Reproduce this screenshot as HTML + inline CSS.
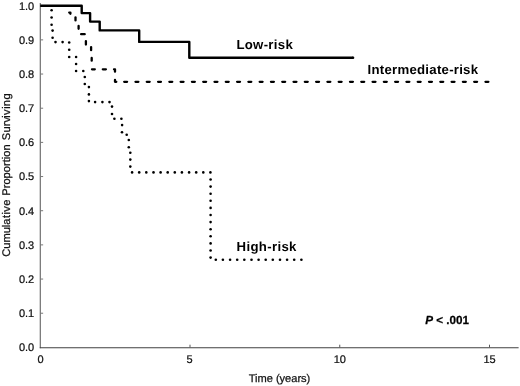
<!DOCTYPE html>
<html><head><meta charset="utf-8"><title>Survival</title>
<style>
html,body{margin:0;padding:0;background:#fff;}
body{width:520px;height:386px;overflow:hidden;}
svg{display:block;will-change:transform;}
text{font-family:"Liberation Sans",Arial,sans-serif;fill:#111;text-rendering:geometricPrecision;}
.t{stroke:#111;stroke-width:0.24px;}
.a{stroke:#111;stroke-width:0.25px;}
.t{font-size:11px;}
.a{font-size:11.1px;}
.b{font-size:13.2px;font-weight:bold;fill:#000;}
.p{font-size:11.7px;font-weight:bold;fill:#000;stroke:#000;stroke-width:0.25px;}
</style></head><body>
<svg width="520" height="386" viewBox="0 0 520 386">
<rect width="520" height="386" fill="#fff"/>
<g stroke="#4a4a4a" fill="none">
<line x1="40.25" y1="3" x2="40.25" y2="348.2" stroke-width="0.95"/>
<line x1="39.78" y1="347.7" x2="518.6" y2="347.7" stroke-width="1.1" stroke="#404040"/>
</g>
<g stroke="#777" stroke-width="1" fill="none">
<line x1="40.25" y1="313.23" x2="43.15" y2="313.23"/>
<line x1="40.25" y1="279.06" x2="43.15" y2="279.06"/>
<line x1="40.25" y1="244.89" x2="43.15" y2="244.89"/>
<line x1="40.25" y1="210.72" x2="43.15" y2="210.72"/>
<line x1="40.25" y1="176.55" x2="43.15" y2="176.55"/>
<line x1="40.25" y1="142.38" x2="43.15" y2="142.38"/>
<line x1="40.25" y1="108.21" x2="43.15" y2="108.21"/>
<line x1="40.25" y1="74.04" x2="43.15" y2="74.04"/>
<line x1="40.25" y1="39.87" x2="43.15" y2="39.87"/>
<line x1="190.00" y1="347.5" x2="190.00" y2="344.7" stroke="#5a5a5a"/>
<line x1="339.75" y1="347.5" x2="339.75" y2="344.7" stroke="#5a5a5a"/>
<line x1="489.50" y1="347.5" x2="489.50" y2="344.7" stroke="#5a5a5a"/>
</g>
<g class="t" text-anchor="end">
<text x="34.2" y="351.30">0.0</text>
<text x="34.2" y="317.13">0.1</text>
<text x="34.2" y="282.96">0.2</text>
<text x="34.2" y="248.79">0.3</text>
<text x="34.2" y="214.62">0.4</text>
<text x="34.2" y="180.45">0.5</text>
<text x="34.2" y="146.28">0.6</text>
<text x="34.2" y="112.11">0.7</text>
<text x="34.2" y="77.94">0.8</text>
<text x="34.2" y="43.77">0.9</text>
<text x="34.2" y="9.60">1.0</text>
</g>
<g class="t" text-anchor="middle">
<text x="40.55" y="363.2">0</text>
<text x="189.45" y="363.2">5</text>
<text x="339.80" y="363.2">10</text>
<text x="489.50" y="363.2">15</text>
</g>
<text class="a" x="248.7" y="382.4" textLength="61.6" lengthAdjust="spacing">Time (years)</text>
<g class="a">
<text transform="translate(9.6 256.8) rotate(-90)" dx="0 0 0 0 0 0 0.45 0.45 0.45 0.45">Cumulative</text>
<text transform="translate(9.6 195.75) rotate(-90)" letter-spacing="0.03">Proportion</text>
<text transform="translate(9.6 140.15) rotate(-90)" letter-spacing="0.15" dx="0 0 0 0 -1 0 0.5 0 0.4">Surviving</text>
</g>
<g fill="#000">
<circle cx="51.6" cy="10.2" r="1.3"/>
<circle cx="51.6" cy="17.5" r="1.3"/>
<circle cx="51.6" cy="24.7" r="1.3"/>
<circle cx="52.6" cy="30.6" r="1.3"/>
<circle cx="52.6" cy="37.8" r="1.3"/>
<circle cx="55.5" cy="42.1" r="1.3"/>
<circle cx="62.6" cy="42.1" r="1.3"/>
<circle cx="69.2" cy="42.5" r="1.3"/>
<circle cx="69.2" cy="49.7" r="1.3"/>
<circle cx="69.2" cy="57.0" r="1.3"/>
<circle cx="76.1" cy="57.0" r="1.3"/>
<circle cx="76.1" cy="64.0" r="1.3"/>
<circle cx="76.1" cy="71.0" r="1.3"/>
<circle cx="83.3" cy="71.0" r="1.3"/>
<circle cx="84.8" cy="77.0" r="1.3"/>
<circle cx="84.8" cy="84.0" r="1.3"/>
<circle cx="88.9" cy="87.1" r="1.3"/>
<circle cx="88.9" cy="94.4" r="1.3"/>
<circle cx="88.9" cy="101.1" r="1.3"/>
<circle cx="95.1" cy="102.1" r="1.3"/>
<circle cx="102.4" cy="102.1" r="1.3"/>
<circle cx="109.5" cy="102.1" r="1.3"/>
<circle cx="112.0" cy="106.6" r="1.3"/>
<circle cx="112.0" cy="114.0" r="1.3"/>
<circle cx="114.4" cy="118.8" r="1.3"/>
<circle cx="121.4" cy="118.8" r="1.3"/>
<circle cx="122.1" cy="125.1" r="1.3"/>
<circle cx="122.0" cy="132.2" r="1.3"/>
<circle cx="126.7" cy="134.8" r="1.3"/>
<circle cx="128.8" cy="140.0" r="1.3"/>
<circle cx="128.8" cy="147.2" r="1.3"/>
<circle cx="130.3" cy="152.8" r="1.3"/>
<circle cx="130.3" cy="159.6" r="1.3"/>
<circle cx="130.3" cy="166.6" r="1.3"/>
<circle cx="132.1" cy="172.4" r="1.3"/>
<circle cx="139.2" cy="172.4" r="1.3"/>
<circle cx="146.3" cy="172.4" r="1.3"/>
<circle cx="153.5" cy="172.4" r="1.3"/>
<circle cx="160.6" cy="172.4" r="1.3"/>
<circle cx="167.7" cy="172.4" r="1.3"/>
<circle cx="174.8" cy="172.4" r="1.3"/>
<circle cx="181.9" cy="172.4" r="1.3"/>
<circle cx="189.1" cy="172.4" r="1.3"/>
<circle cx="196.2" cy="172.4" r="1.3"/>
<circle cx="203.3" cy="172.4" r="1.3"/>
<circle cx="210.4" cy="172.4" r="1.3"/>
<circle cx="210.6" cy="179.5" r="1.3"/>
<circle cx="210.6" cy="186.6" r="1.3"/>
<circle cx="210.6" cy="193.7" r="1.3"/>
<circle cx="210.6" cy="200.8" r="1.3"/>
<circle cx="210.6" cy="207.9" r="1.3"/>
<circle cx="210.6" cy="215.0" r="1.3"/>
<circle cx="210.6" cy="222.1" r="1.3"/>
<circle cx="210.6" cy="229.2" r="1.3"/>
<circle cx="210.6" cy="236.3" r="1.3"/>
<circle cx="210.6" cy="243.4" r="1.3"/>
<circle cx="210.6" cy="250.5" r="1.3"/>
<circle cx="210.6" cy="257.6" r="1.3"/>
<circle cx="215.8" cy="259.8" r="1.3"/>
<circle cx="222.9" cy="259.8" r="1.3"/>
<circle cx="230.1" cy="259.8" r="1.3"/>
<circle cx="237.2" cy="259.8" r="1.3"/>
<circle cx="244.3" cy="259.8" r="1.3"/>
<circle cx="251.5" cy="259.8" r="1.3"/>
<circle cx="258.6" cy="259.8" r="1.3"/>
<circle cx="265.7" cy="259.8" r="1.3"/>
<circle cx="272.8" cy="259.8" r="1.3"/>
<circle cx="280.0" cy="259.8" r="1.3"/>
<circle cx="287.1" cy="259.8" r="1.3"/>
<circle cx="294.2" cy="259.8" r="1.3"/>
<circle cx="301.4" cy="259.8" r="1.3"/>
</g>
<g stroke="#000" stroke-width="2.3" fill="none" stroke-linecap="round" stroke-linejoin="round">
<path d="M69.2 12.6H70.4V13.8"/>
<path d="M75.5 17.4V20.4"/>
<path d="M78.6 25.9V28.8"/>
<path d="M81.1 34.2H84.7"/>
<path d="M85.9 41.1V44.6"/>
<path d="M91.1 47.1V50.2"/>
<path d="M91.7 57.9V60.7"/>
<path d="M92 69.3H94.8"/>
<path d="M102.8 69.3H105.9"/>
<path d="M114 69.3H115V71.7"/>
<path d="M115 80V81.8H116.3"/>
<path d="M124.2 81.8H490" stroke-dasharray="2.9 8.39"/>
</g>
<path d="M40.2 5.7H81.7V13.1H90.1V21.6H99.7V30.4H139.2V41.9H189.3V57.8H353.1" stroke="#000" stroke-width="2.4" fill="none" stroke-linejoin="round" stroke-linecap="butt"/>
<circle cx="353.1" cy="57.8" r="1.2" fill="#000"/>
<text class="b" letter-spacing="0.3" x="236.4" y="49.2">Low-risk</text>
<text class="b" letter-spacing="0.26" x="367.6" y="73.8">Intermediate-risk</text>
<text class="b" letter-spacing="0.33" x="236.6" y="251.25">High-risk</text>
<text class="p" x="425.2" y="324.15"><tspan font-style="italic">P</tspan> &lt; .001</text>
</svg>
</body></html>
